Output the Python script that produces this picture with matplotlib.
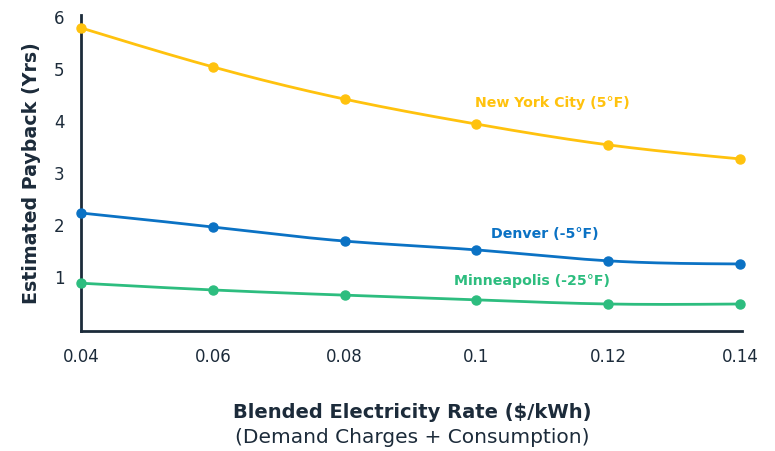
import numpy as np
import matplotlib
matplotlib.use("Agg")
import matplotlib.pyplot as plt

rates = [0.04, 0.06, 0.08, 0.10, 0.12, 0.14]
rate_labels = ["0.04", "0.06", "0.08", "0.1", "0.12", "0.14"]
new_york = [5.79, 5.04, 4.42, 3.94, 3.54, 3.27]
denver = [2.23, 1.96, 1.69, 1.52, 1.31, 1.25]
minneapolis = [0.88, 0.75, 0.65, 0.56, 0.48, 0.48]
y_ticks = [1, 2, 3, 4, 5, 6]

FONT = ["DejaVu Sans"]
NAVY = "#1c2b3a"
YELLOW = "#FFC20E"
BLUE = "#0B72C4"
GREEN = "#2DBD7F"

plt.rcParams["font.family"] = FONT


def smooth(x, y, n=200):
    """Natural cubic spline through the points, for drawing a smooth line."""
    x = np.asarray(x, float)
    y = np.asarray(y, float)
    k = len(x)
    h = np.diff(x)
    A = np.zeros((k, k))
    b = np.zeros(k)
    A[0, 0] = A[-1, -1] = 1
    for i in range(1, k - 1):
        A[i, i - 1] = h[i - 1]
        A[i, i] = 2 * (h[i - 1] + h[i])
        A[i, i + 1] = h[i]
        b[i] = 6 * ((y[i + 1] - y[i]) / h[i] - (y[i] - y[i - 1]) / h[i - 1])
    m = np.linalg.solve(A, b)
    xs = np.linspace(x[0], x[-1], n)
    idx = np.clip(np.searchsorted(x, xs) - 1, 0, k - 2)
    x0, x1 = x[idx], x[idx + 1]
    hh = x1 - x0
    t0, t1 = x1 - xs, xs - x0
    ys = (m[idx] * t0 ** 3 / (6 * hh) + m[idx + 1] * t1 ** 3 / (6 * hh)
          + (y[idx] / hh - m[idx] * hh / 6) * t0
          + (y[idx + 1] / hh - m[idx + 1] * hh / 6) * t1)
    return xs, ys


fig = plt.figure(figsize=(7.75, 4.51), dpi=100)
ax = fig.add_axes([0.1045, 0.266, 0.853, 0.701])

for series, color in [(new_york, YELLOW), (denver, BLUE), (minneapolis, GREEN)]:
    xs, ys = smooth(rates, series)
    ax.plot(xs, ys, color=color, lw=2.0, solid_capstyle="round", zorder=2)
    ax.plot(rates, series, "o", color=color, ms=6.5, zorder=3, clip_on=False)

ax.text(0.1115, 4.35, "New York City (5°F)", color=YELLOW, fontsize=10.2,
        fontweight="bold", ha="center", va="center")
ax.text(0.1103, 1.82, "Denver (-5°F)", color=BLUE, fontsize=10.2,
        fontweight="bold", ha="center", va="center")
ax.text(0.1084, 0.92, "Minneapolis (-25°F)", color=GREEN, fontsize=10.2,
        fontweight="bold", ha="center", va="center")

ax.set_xlim(0.04, 0.1403)
ax.set_ylim(-0.04, 6.04)
ax.set_xticks(rates)
ax.set_xticklabels(rate_labels)
ax.set_yticks(y_ticks)
ax.tick_params(axis="both", length=0, labelsize=12, colors=NAVY)
ax.tick_params(axis="x", pad=12)
ax.tick_params(axis="y", pad=12)

for side in ("top", "right"):
    ax.spines[side].set_visible(False)
for side in ("left", "bottom"):
    ax.spines[side].set_color(NAVY)
    ax.spines[side].set_linewidth(2)

ax.set_ylabel("Estimated Payback (Yrs)", fontsize=13.7, fontweight="bold",
              color=NAVY, labelpad=9)

fig.text(0.532, 0.085, "Blended Electricity Rate ($/kWh)", fontsize=14,
         fontweight="bold", color=NAVY, ha="center", va="center")
fig.text(0.532, 0.029, "(Demand Charges + Consumption)", fontsize=14.5,
         color=NAVY, ha="center", va="center")

fig.savefig("out.png", dpi=100)
